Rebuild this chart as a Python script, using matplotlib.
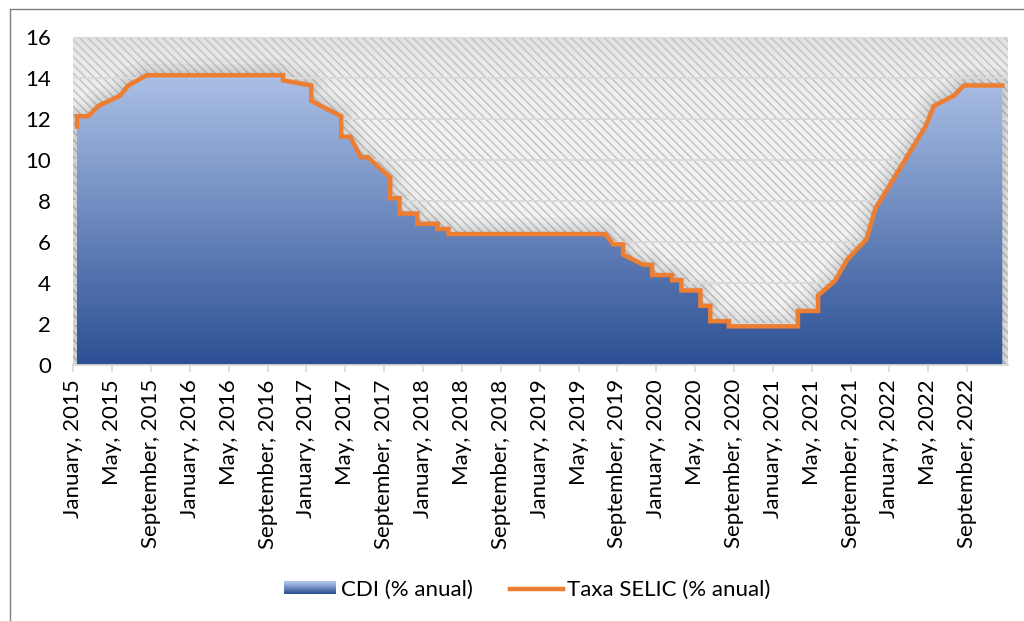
import numpy as np
import matplotlib
matplotlib.use("Agg")
import matplotlib.pyplot as plt
from matplotlib.patches import PathPatch, Rectangle
from matplotlib.path import Path
from matplotlib.lines import Line2D
from matplotlib.legend_handler import HandlerBase

plt.rcParams['font.family'] = ['Lato', 'DejaVu Sans']
plt.rcParams['hatch.linewidth'] = 1.1

# Data: polyline vertices (month index since Jan 2015, % per year)
months = [0.38, 0.38, 1.54, 2.57, 4.81, 5.66, 7.56, 21.57, 21.57, 24.48, 24.48,
          27.57, 27.57, 28.50, 29.60, 30.32, 32.62, 32.62, 33.57, 33.57, 35.40,
          35.40, 37.49, 37.49, 38.62, 38.62, 54.76, 55.58, 56.58, 56.58, 58.70,
          59.57, 59.57, 61.63, 61.63, 62.58, 62.58, 64.54, 64.54, 65.56, 65.56,
          67.46, 67.46, 74.58, 74.58, 76.66, 76.66, 78.44, 79.65, 81.63, 82.56,
          87.71, 88.57, 90.63, 91.66, 95.61]
selic = [11.65, 12.15, 12.15, 12.65, 13.15, 13.65, 14.15, 14.15, 13.90, 13.65, 12.90,
         12.15, 11.15, 11.15, 10.15, 10.15, 9.15, 8.15, 8.15, 7.40, 7.40,
         6.90, 6.90, 6.65, 6.65, 6.40, 6.40, 5.90, 5.90, 5.40, 4.90,
         4.90, 4.40, 4.40, 4.15, 4.15, 3.65, 3.65, 2.90, 2.90, 2.15,
         2.15, 1.90, 1.90, 2.65, 2.65, 3.40, 4.15, 5.15, 6.15, 7.65,
         11.65, 12.65, 13.15, 13.65, 13.65]
cdi = [11.65, 12.15, 12.15, 12.65, 13.15, 13.65, 14.15, 14.15, 13.90, 13.65, 12.90,
       12.15, 11.15, 11.15, 10.15, 10.15, 9.15, 8.15, 8.15, 7.40, 7.40,
       6.90, 6.90, 6.65, 6.65, 6.40, 6.40, 5.90, 5.90, 5.40, 4.90,
       4.90, 4.40, 4.40, 4.15, 4.15, 3.65, 3.65, 2.90, 2.90, 2.15,
       2.15, 1.90, 1.90, 2.65, 2.65, 3.40, 4.15, 5.15, 6.15, 7.65,
       11.65, 12.65, 13.15, 13.65, 13.65]

tick_labels = []
for yr in range(2015, 2023):
    for mname in ["January", "May", "September"]:
        tick_labels.append(f"{mname}, {yr}")
tick_pos = list(range(0, 4 * len(tick_labels), 4))
yticks = [0, 2, 4, 6, 8, 10, 12, 14, 16]

top_c = np.array([171, 192, 230]) / 255
bot_c = np.array([44, 80, 148]) / 255

W, H = 1024, 621
fig = plt.figure(figsize=(W / 100, H / 100), dpi=100)
ax = fig.add_axes([73.3 / W, 1 - 365.3 / H, (1007.5 - 73.3) / W, (365.3 - 37.3) / H])
xmax = 96.15
ax.set_xlim(0, xmax)
ax.set_ylim(0, 16)

# background
tt = np.linspace(0, 1, 256)
bg = 0.955 - 0.07 * np.exp(-tt / 0.12)
bg = bg.reshape(-1, 1)
ax.imshow(np.dstack([bg, bg, bg]), extent=[0, xmax, 0, 16], origin='upper',
          aspect='auto', zorder=0)
ax.add_patch(Rectangle((0, 0), xmax, 16, facecolor='none', edgecolor='#c4c4c4',
                       hatch='\\\\\\\\', linewidth=0, zorder=0.5))

# shadow halo around the area
verts = [(months[0], 0)] + list(zip(months, cdi)) + [(months[-1], 0)]
poly_path = Path(verts + [verts[0]], closed=True)
for lw, a in [(24, 0.035), (16, 0.045), (10, 0.05), (5, 0.06)]:
    sh = PathPatch(poly_path, facecolor='none', edgecolor='#404040', linewidth=lw,
                   alpha=a, zorder=0.8, joinstyle='round')
    ax.add_patch(sh)
    sh.set_clip_path(ax.patch)

for yv in yticks[1:]:
    ax.axhline(yv, color='#d9d9d9', linewidth=1.3, zorder=1)

# gradient area
patch = PathPatch(poly_path, facecolor='none', edgecolor='none', zorder=2)
ax.add_patch(patch)
t = np.linspace(0, 1, 256).reshape(-1, 1, 1)
grad = top_c * (1 - t) + bot_c * t
im = ax.imshow(grad, extent=[0, xmax, 0, max(cdi)], origin='upper', aspect='auto', zorder=2)
im.set_clip_path(patch)

ax.plot(months, selic, color='#ed7d31', linewidth=3.2, solid_joinstyle='miter', zorder=3)

for s in ['top', 'right', 'left']:
    ax.spines[s].set_visible(False)
ax.spines['bottom'].set_color('#d9d9d9')
ax.spines['bottom'].set_linewidth(1.3)
ax.spines['bottom'].set_zorder(4)

FS = 16
ax.set_yticks(yticks)
ax.set_yticklabels([str(v) for v in yticks])
ax.tick_params(axis='y', length=0, pad=16, labelsize=FS, labelcolor='#000000')
ax.set_xticks(tick_pos)
ax.set_xticklabels(tick_labels, rotation=90)
ax.tick_params(axis='x', length=5, width=1.2, color='#d9d9d9', pad=5, labelsize=FS)


class GradientHandler(HandlerBase):
    def create_artists(self, legend, orig_handle, xdescent, ydescent, width, height,
                       fontsize, trans):
        arts = []
        n = 12
        for i in range(n):
            f = i / (n - 1)
            c = bot_c * (1 - f) + top_c * f
            r = Rectangle((-xdescent, -ydescent + height * i / n), width, height / n + 0.3,
                          facecolor=c, edgecolor='none', transform=trans)
            arts.append(r)
        return arts


# legend
h1 = Rectangle((0, 0), 1, 1, facecolor='#5074b9', edgecolor='none')
h2 = Line2D([], [], color='#ed7d31', linewidth=3.2)
fig.legend([h1, h2], ['CDI (% anual)', 'Taxa SELIC (% anual)'], loc='center',
           bbox_to_anchor=(0.515, 0.05), ncol=2, frameon=False, fontsize=FS,
           handlelength=2.35, handleheight=0.5, columnspacing=1.7, handletextpad=0.2,
           handler_map={Rectangle: GradientHandler()})

# figure border (left & top)
fig.add_artist(Line2D([10 / W, 10 / W], [0, 1 - 9 / H], transform=fig.transFigure,
                      color='#7f7f7f', linewidth=1.0))
fig.add_artist(Line2D([10 / W, 1], [1 - 9 / H, 1 - 9 / H], transform=fig.transFigure,
                      color='#7f7f7f', linewidth=1.0))

fig.savefig('out.png', dpi=100)
